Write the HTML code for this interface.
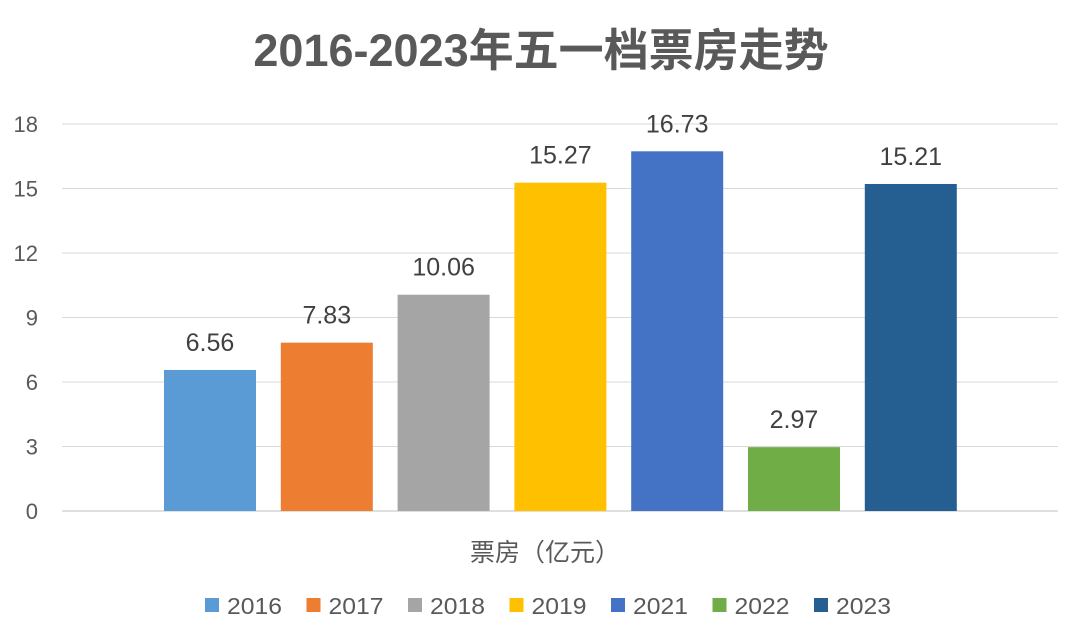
<!DOCTYPE html>
<html><head><meta charset="utf-8">
<style>
html,body{margin:0;padding:0;background:#fff;}
svg text{font-family:"Liberation Sans","Noto Sans CJK SC",sans-serif;}
</style></head>
<body>
<svg id="chart" width="1080" height="638" viewBox="0 0 1080 638" xmlns="http://www.w3.org/2000/svg">
<rect width="1080" height="638" fill="#fff"/>
<text x="541" y="66" text-anchor="middle" font-size="45" font-weight="bold" fill="#595959">2016-2023年五一档票房走势</text>
<g id="grid"></g>
<g id="bars"></g>
<g id="labels"></g>
<text x="545" y="561" text-anchor="middle" font-size="25" fill="#595959">票房（亿元）</text>
<g id="legend"></g>
</svg>
<script>
const categories = ["2016","2017","2018","2019","2021","2022","2023"];
const values = [6.56, 7.83, 10.06, 15.27, 16.73, 2.97, 15.21];
const valueLabels = ["6.56","7.83","10.06","15.27","16.73","2.97","15.21"];
const yTicks = [0,3,6,9,12,15,18];
const colors = ["#5B9BD5","#ED7D31","#A5A5A5","#FFC000","#4472C4","#70AD47","#255E91"];

const NS="http://www.w3.org/2000/svg";
const y0=511, y1=124, yMax=18;
function yScale(v){return y0-(v/yMax)*(y0-y1);}
function xCenter(i){return 210+i*116.8;}
const barW=92;
function mk(tag,attrs,parent,text){const e=document.createElementNS(NS,tag);for(const k in attrs)e.setAttribute(k,attrs[k]);if(text!==undefined)e.textContent=text;parent.appendChild(e);return e;}

const grid=document.getElementById('grid');
yTicks.forEach(t=>{
  const y=yScale(t);
  const l=mk('line',{x1:62,x2:1058,y1:y,y2:y,stroke:t===0?'#BFBFBF':'#D9D9D9','stroke-width':1},grid);
  
  
  const tx=mk('text',{x:38,y:y+8,'text-anchor':'end','font-size':22,fill:'#595959'},grid,String(t));
  
  
});

const bars=document.getElementById('bars'), labels=document.getElementById('labels');
values.forEach((v,i)=>{
  const cx=xCenter(i), yt=yScale(v);
  const r=mk('rect',{x:cx-barW/2,y:yt,width:barW,height:y0-yt,fill:colors[i]},bars);
  
  
  const t=mk('text',{x:cx,y:yt-19,'text-anchor':'middle','font-size':25,fill:'#404040'},labels,valueLabels[i]);
  
  
});

const legend=document.getElementById('legend');
categories.forEach((c,i)=>{
  const x=205+i*101.5;
  const g=mk('g',{},legend);
  
  
  mk('rect',{x:x,y:598,width:14,height:14,fill:colors[i]},g);
  mk('text',{x:x+22,y:614,'font-size':23,fill:'#595959',textLength:55,lengthAdjust:'spacingAndGlyphs'},g,c);
});
</script>
</body></html>
